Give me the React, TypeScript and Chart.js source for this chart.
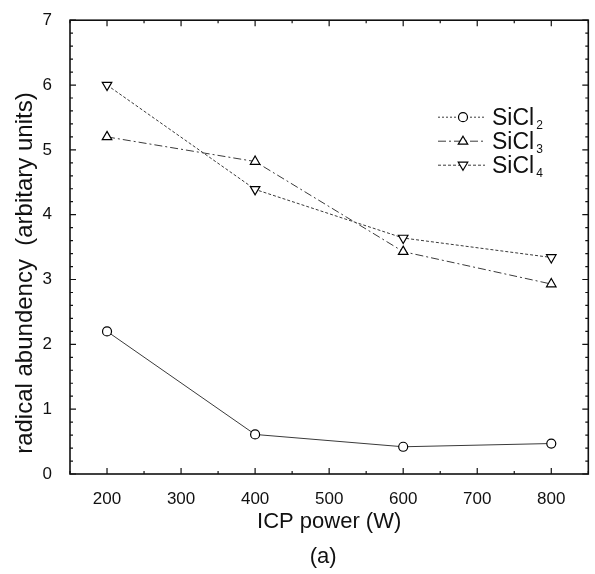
import React, { useEffect, useRef } from "react";
import { Chart, registerables } from "chart.js";

Chart.register(...registerables);

const powers = [200, 400, 600, 800];
const sicl2 = [2.2, 0.61, 0.42, 0.47];
const sicl3 = [5.2, 4.82, 3.43, 2.93];
const sicl4 = [6.0, 4.39, 3.64, 3.34];
const seriesNames = ["SiCl", "SiCl", "SiCl"];
const seriesSubs = ["2", "3", "4"];
const xTicks = [200, 300, 400, 500, 600, 700, 800];
const yTicks = [0, 1, 2, 3, 4, 5, 6, 7];
const xTitle = "ICP power (W)";
const yTitle = "radical abundency  (arbitary units)";
const panelLabel = "(a)";

const FONT = "'Liberation Sans', Arial, Helvetica, sans-serif";
const LINE = "#3a3a3a";

const dashes = [[], [8, 3, 2, 3], [3, 2]];
const styles = ["circle", "triangle", "triangle"];
const rotations = [0, 0, 180];

function drawMarker(ctx: CanvasRenderingContext2D, kind: number, x: number, y: number) {
  ctx.save();
  ctx.setLineDash([]);
  ctx.strokeStyle = "#000";
  ctx.fillStyle = "#fff";
  ctx.lineWidth = 1.2;
  ctx.beginPath();
  if (kind === 0) {
    ctx.arc(x, y, 4.5, 0, Math.PI * 2);
  } else {
    const r = 5;
    const s = kind === 1 ? 1 : -1;
    ctx.moveTo(x, y - s * r);
    ctx.lineTo(x + r * 0.95, y + s * r * 0.6);
    ctx.lineTo(x - r * 0.95, y + s * r * 0.6);
    ctx.closePath();
  }
  ctx.fill();
  ctx.stroke();
  ctx.restore();
}

const decorPlugin = {
  id: "decor",
  afterDraw(chart: any) {
    const ctx: CanvasRenderingContext2D = chart.ctx;
    const a = chart.chartArea;
    const xs = chart.scales.x;
    const ys = chart.scales.y;
    ctx.save();
    // frame
    ctx.strokeStyle = "#111";
    ctx.lineWidth = 1.6;
    ctx.setLineDash([]);
    ctx.strokeRect(a.left, a.top, a.right - a.left, a.bottom - a.top);
    // ticks
    ctx.lineWidth = 1.2;
    ctx.beginPath();
    for (let v = 150; v <= 850; v += 50) {
      const px = xs.getPixelForValue(v);
      const len = v % 100 === 0 ? 6 : 3;
      ctx.moveTo(px, a.bottom);
      ctx.lineTo(px, a.bottom - len);
      ctx.moveTo(px, a.top);
      ctx.lineTo(px, a.top + len);
    }
    for (let i = 0; i <= 35; i++) {
      const v = i * 0.2;
      const py = ys.getPixelForValue(v);
      const len = i % 5 === 0 ? 6 : 3;
      ctx.moveTo(a.left, py);
      ctx.lineTo(a.left + len, py);
      ctx.moveTo(a.right, py);
      ctx.lineTo(a.right - len, py);
    }
    ctx.stroke();

    // titles
    ctx.fillStyle = "#111";
    ctx.textAlign = "center";
    ctx.textBaseline = "alphabetic";
    ctx.font = `22px ${FONT}`;
    const cx = (a.left + a.right) / 2;
    ctx.fillText(xTitle, cx, a.bottom + 54);
    ctx.fillText(panelLabel, cx - 6, a.bottom + 89);
    ctx.save();
    ctx.translate(32, (a.top + a.bottom) / 2 + 26);
    ctx.rotate(-Math.PI / 2);
    ctx.font = `24px ${FONT}`;
    ctx.fillText(yTitle, 0, 0);
    ctx.restore();

    // legend
    const lx0 = a.left + 368;
    const lx1 = a.left + 415;
    const mx = a.left + 393;
    const tx = a.left + 422;
    const rows = [a.top + 97, a.top + 121, a.top + 145];
    rows.forEach((ry, i) => {
      ctx.save();
      ctx.strokeStyle = LINE;
      ctx.lineWidth = 1;
      ctx.setLineDash(dashes[i].length ? dashes[i] : [2, 2]);
      ctx.beginPath();
      ctx.moveTo(lx0, ry);
      ctx.lineTo(lx1, ry);
      ctx.stroke();
      ctx.restore();
      drawMarker(ctx, i, mx, ry);
      ctx.textAlign = "left";
      ctx.textBaseline = "alphabetic";
      ctx.font = `23px ${FONT}`;
      ctx.fillStyle = "#111";
      ctx.fillText(seriesNames[i], tx, ry + 8);
      const w = ctx.measureText(seriesNames[i]).width;
      ctx.font = `12px ${FONT}`;
      ctx.fillText(seriesSubs[i], tx + w + 2, ry + 12);
    });
    ctx.restore();
  },
};

export default function App() {
  const ref = useRef<HTMLCanvasElement | null>(null);
  useEffect(() => {
    document.body.style.margin = "0";
    const mk = (data: number[], i: number) => ({
      label: seriesNames[i] + seriesSubs[i],
      data: powers.map((p, j) => ({ x: p, y: data[j] })),
      borderColor: LINE,
      borderWidth: 1,
      borderDash: dashes[i],
      pointStyle: styles[i],
      pointRotation: rotations[i],
      pointRadius: i === 0 ? 4.5 : 5.5,
      pointBorderColor: "#000",
      pointBackgroundColor: "#fff",
      pointBorderWidth: 1.2,
      tension: 0,
    });
    const chart = new Chart(ref.current as HTMLCanvasElement, {
      type: "line",
      data: { datasets: [mk(sicl2, 0), mk(sicl3, 1), mk(sicl4, 2)] },
      options: {
        responsive: false,
        animation: false,
        devicePixelRatio: 1,
        layout: { padding: { top: 15, right: 2, left: 0, bottom: 0 } },
        plugins: { legend: { display: false }, tooltip: { enabled: false } },
        scales: {
          x: {
            type: "linear",
            min: 150,
            max: 850,
            grid: { display: false },
            border: { display: false },
            afterBuildTicks: (s: any) => {
              s.ticks = xTicks.map((v) => ({ value: v }));
            },
            afterFit: (s: any) => {
              s.height = 100;
            },
            ticks: {
              padding: 7,
              color: "#111",
              font: { family: FONT, size: 17 },
              maxRotation: 0,
            },
          },
          y: {
            type: "linear",
            min: 0,
            max: 7,
            grid: { display: false },
            border: { display: false },
            afterBuildTicks: (s: any) => {
              s.ticks = yTicks.map((v) => ({ value: v }));
            },
            afterFit: (s: any) => {
              s.width = 70;
            },
            ticks: {
              padding: 10,
              color: "#111",
              font: { family: FONT, size: 17 },
            },
          },
        },
      },
      plugins: [decorPlugin],
    } as any);
    return () => chart.destroy();
  }, []);
  return (
    <div style={{ position: "fixed", left: 0, top: 0, width: 595, height: 574, background: "#fff" }}>
      <canvas ref={ref} width={595} height={574} />
    </div>
  );
}
